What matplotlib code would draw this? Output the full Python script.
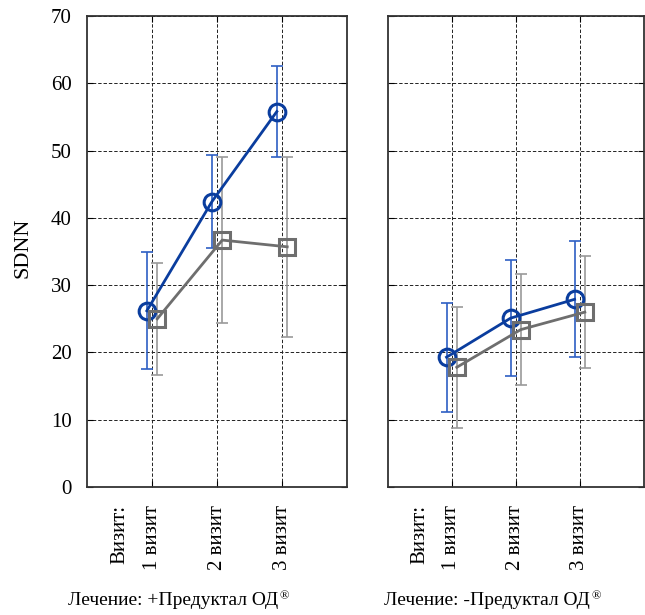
import matplotlib.pyplot as plt
import numpy as np

plt.rcParams['font.family'] = ['Liberation Serif', 'DejaVu Serif']

visits = ["1 визит", "2 визит", "3 визит"]
factor_label = "Визит:"
panels = ["Лечение: +Предуктал ОД", "Лечение: -Предуктал ОД"]

# SDNN means and half-width of error bars, per panel
blue_mean = [[26.2, 42.4, 55.8], [19.3, 25.1, 27.9]]
blue_err = [[8.7, 6.9, 6.7], [8.1, 8.6, 8.6]]
gray_mean = [[25.0, 36.7, 35.7], [17.8, 23.4, 26.0]]
gray_err = [[8.3, 12.3, 13.4], [9.0, 8.3, 8.3]]

blue = '#0a3d9e'
blue_eb = '#2d5fc4'
gray = '#6e6e6e'
gray_eb = '#9a9a9a'

fig = plt.figure(figsize=(6.45, 6.15), dpi=100)
ax1 = fig.add_axes([0.135, 0.208, 0.403, 0.766])
ax2 = fig.add_axes([0.601, 0.208, 0.397, 0.766])

x = np.arange(1, len(visits) + 1)
off = 0.08

for i, ax in enumerate([ax1, ax2]):
    ax.errorbar(x - off, blue_mean[i], yerr=blue_err[i], fmt='none',
                ecolor=blue_eb, elinewidth=1.2, capsize=4, capthick=1.2, zorder=3)
    ax.errorbar(x + off, gray_mean[i], yerr=gray_err[i], fmt='none',
                ecolor=gray_eb, elinewidth=1.2, capsize=4, capthick=1.2, zorder=3)
    ax.plot(x - off, blue_mean[i], color=blue, lw=2, marker='o', ms=12,
            mfc='none', mec=blue, mew=2.2, zorder=4)
    ax.plot(x + off, gray_mean[i], color=gray, lw=2, marker='s', ms=12,
            mfc='none', mec=gray, mew=2.2, zorder=4)
    ax.set_xlim(0, 4)
    ax.set_ylim(0, 70)
    ax.set_yticks(range(0, 71, 10))
    ax.set_xticks(x)
    ax.set_xticklabels(visits, rotation=90, fontsize=15)
    # factor name sits before the first level, as a minor tick label
    ax.set_xticks([0.5], minor=True)
    ax.set_xticklabels([factor_label], minor=True, rotation=90, fontsize=15)
    ax.tick_params(axis='x', which='both', pad=13)
    ax.tick_params(axis='x', which='minor', length=0)
    ax.tick_params(axis='y', pad=11, labelsize=15)
    ax.grid(True, which='major', color='#222222', linestyle='--', linewidth=0.7,
            dashes=(3.5, 2))
    ax.tick_params(which='major', direction='in', length=4, top=True, right=True)
    for s in ax.spines.values():
        s.set_linewidth(1.3)
        s.set_color('#333333')

ax2.tick_params(labelleft=False)
fig.text(23 / 645, 1 - 248 / 615, "SDNN", rotation=90, ha='center', va='center',
         fontsize=16)

for xc, label in zip([178 / 645, 492 / 645], panels):
    t = fig.text(xc - 0.008, 0.010, label, ha='center', va='bottom', fontsize=14)
    plt.annotate("®", xy=(1, 1), xycoords=t, xytext=(1, 1),
                 textcoords='offset points', ha='left', va='top', fontsize=9)

fig.savefig('out.png', dpi=100)
